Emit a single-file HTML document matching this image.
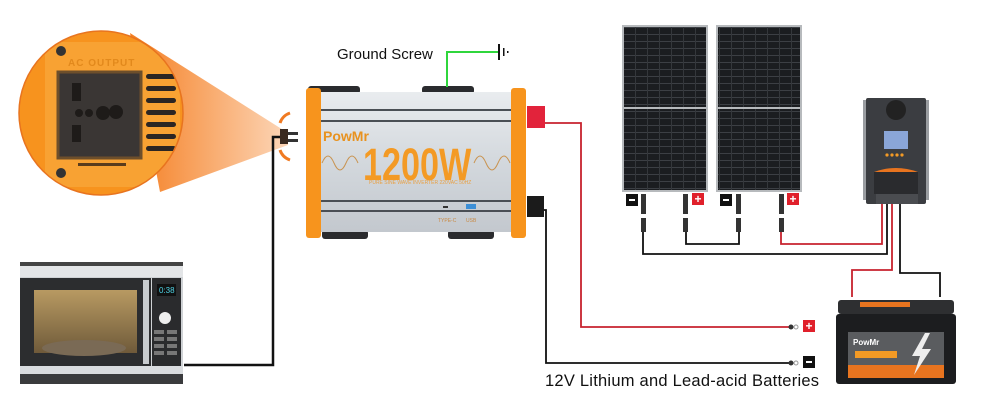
<!DOCTYPE html>
<html><head><meta charset="utf-8"><style>
html,body{margin:0;padding:0;background:#fff;}
svg{display:block;font-family:"Liberation Sans",sans-serif;}
</style></head><body>
<svg width="1000" height="410" viewBox="0 0 1000 410" xmlns="http://www.w3.org/2000/svg">
<defs>
<linearGradient id="cone" x1="0" x2="1" y1="0" y2="0">
<stop offset="0" stop-color="#f57f22"/><stop offset="1" stop-color="#fcd6b8"/></linearGradient>
<linearGradient id="silver" x1="0" x2="0" y1="0" y2="1">
<stop offset="0" stop-color="#e9ecef"/><stop offset="0.5" stop-color="#d3d8dd"/><stop offset="1" stop-color="#c3c8ce"/></linearGradient>
<linearGradient id="oven" x1="0" x2="0" y1="0" y2="1">
<stop offset="0" stop-color="#b89a62"/><stop offset="1" stop-color="#6f5a3a"/></linearGradient>
<pattern id="cells" width="12" height="7" patternUnits="userSpaceOnUse">
<rect width="12" height="7" fill="#1b1d20"/><rect x="0" y="6" width="12" height="1" fill="#3c3f44"/><rect x="11" y="0" width="1" height="7" fill="#34373b"/></pattern>
<clipPath id="circ"><circle cx="101" cy="113" r="82"/></clipPath>
</defs>

<polygon points="130,33 288,133 288,145 160,192" fill="url(#cone)"/>
<g clip-path="url(#circ)">
<rect x="15" y="25" width="175" height="180" fill="#f7931e"/>
<rect x="45" y="42" width="135" height="145" rx="6" fill="#f8a233"/>
<text x="68" y="66" font-size="10" font-weight="bold" fill="#e2891c" letter-spacing="1">AC OUTPUT</text>
<rect x="58" y="72" width="83" height="86" fill="#3a3634" stroke="#6d4f2b" stroke-width="3"/>
<rect x="72" y="83" width="9" height="18" fill="#1e1b19"/><rect x="72" y="125" width="9" height="17" fill="#1e1b19"/>
<circle cx="79" cy="113" r="4" fill="#1e1b19"/><circle cx="89" cy="113" r="4" fill="#1e1b19"/><circle cx="103" cy="113" r="7" fill="#1e1b19"/><circle cx="116" cy="112" r="7" fill="#1e1b19"/>
<rect x="78" y="163" width="48" height="3" fill="#5a3c1c"/>
<g fill="#2b2623">
<rect x="146" y="74" width="30" height="5" rx="2.5"/><rect x="146" y="86" width="30" height="5" rx="2.5"/><rect x="146" y="98" width="30" height="5" rx="2.5"/><rect x="146" y="110" width="30" height="5" rx="2.5"/><rect x="146" y="122" width="30" height="5" rx="2.5"/><rect x="146" y="134" width="30" height="5" rx="2.5"/><rect x="146" y="146" width="30" height="5" rx="2.5"/></g>
<circle cx="61" cy="51" r="5" fill="#333"/><circle cx="61" cy="173" r="5" fill="#333"/>
</g>
<circle cx="101" cy="113" r="82" fill="none" stroke="#e8741f" stroke-width="1.5"/>

<path d="M290 113 a16 16 0 0 0 -10 10 M280 150 a16 16 0 0 0 10 10" stroke="#f07a22" stroke-width="3" fill="none"/>
<rect x="280" y="129" width="8" height="15" fill="#3a2a20"/><rect x="288" y="132" width="10" height="3" fill="#333"/><rect x="288" y="139" width="10" height="3" fill="#333"/>
<polyline points="280,137 273,137 273,365 184,365" fill="none" stroke="#111" stroke-width="2.5"/>

<g fill="#2a2b2e"><rect x="308" y="86" width="52" height="8" rx="3"/><rect x="422" y="86" width="52" height="8" rx="3"/><rect x="322" y="230" width="46" height="9" rx="3"/><rect x="448" y="230" width="46" height="9" rx="3"/></g>
<rect x="318" y="92" width="195" height="140" fill="url(#silver)"/>
<g fill="#4a4f55"><rect x="318" y="109" width="195" height="2"/><rect x="318" y="120" width="195" height="2"/><rect x="318" y="200" width="195" height="2"/><rect x="318" y="210" width="195" height="2"/></g>
<rect x="306" y="88" width="15" height="150" rx="3" fill="#f7941d"/>
<rect x="511" y="88" width="15" height="150" rx="3" fill="#f7941d"/>
<rect x="527" y="106" width="18" height="22" fill="#e2233b"/>
<rect x="527" y="196" width="17" height="21" fill="#1b1b1b"/>
<text x="323" y="141" font-size="14" font-weight="bold" fill="#e8921f">PowMr</text>
<path d="M322 163 q6 -14 12 0 t12 0 t12 0" stroke="#c99350" fill="none" stroke-width="1"/>
<path d="M474 163 q6 -14 12 0 t12 0 t12 0" stroke="#c99350" fill="none" stroke-width="1"/>
<text transform="translate(363,180) scale(0.76,1)" font-size="45" font-weight="bold" fill="#f39a25">1200W</text>
<text x="369" y="184" font-size="5" fill="#e8a044">PURE SINE WAVE INVERTER 220VAC 50HZ</text>
<rect x="443" y="206" width="5" height="2" fill="#333"/><rect x="466" y="204" width="10" height="5" fill="#3d8fd6"/>
<text x="438" y="222" font-size="5" fill="#c98a44">TYPE-C</text><text x="466" y="222" font-size="5" fill="#c98a44">USB</text>

<text x="337" y="59" font-size="15" fill="#111">Ground Screw</text>
<polyline points="447,87 447,52 498,52" fill="none" stroke="#2fd63c" stroke-width="2"/>
<rect x="498" y="44" width="2" height="16" fill="#111"/><rect x="503" y="48" width="1.5" height="8" fill="#111"/><rect x="507" y="51" width="1.5" height="2" fill="#111"/>

<polyline points="545,123 581,123 581,327 790,327" fill="none" stroke="#c7222e" stroke-width="1.8"/>
<polyline points="544,210 546,210 546,363 790,363" fill="none" stroke="#111" stroke-width="1.8"/>
<circle cx="791" cy="327" r="2.5" fill="#333"/><circle cx="796" cy="327" r="2" fill="none" stroke="#999"/>
<circle cx="791" cy="363" r="2.5" fill="#333"/><circle cx="796" cy="363" r="2" fill="none" stroke="#999"/>
<rect x="803" y="320" width="12" height="12" fill="#e0202b"/><text x="809" y="330" font-size="12" font-weight="bold" fill="#fff" text-anchor="middle">+</text>
<rect x="803" y="356" width="12" height="12" fill="#111"/><rect x="806" y="361" width="6" height="2" fill="#fff"/>
<text x="545" y="386" font-size="16.5" fill="#111" textLength="274">12V Lithium and Lead-acid Batteries</text>

<rect x="20" y="262" width="163" height="120" rx="3" fill="#cfd2d5"/>
<rect x="20" y="262" width="163" height="4" fill="#444"/>
<rect x="20" y="266" width="163" height="11" fill="#e3e5e7"/>
<rect x="20" y="278" width="131" height="88" fill="#2c2d2f"/>
<rect x="34" y="290" width="103" height="63" fill="url(#oven)"/>
<ellipse cx="84" cy="348" rx="42" ry="8" fill="#7a6a55"/>
<rect x="143" y="280" width="6" height="84" fill="#c8cbce"/>
<rect x="152" y="278" width="29" height="88" fill="#2a2b2d"/>
<rect x="157" y="284" width="19" height="12" fill="#111"/><text x="159" y="293" font-size="8" fill="#4fd4e6">0:38</text>
<circle cx="165" cy="318" r="6" fill="#eee"/>
<g fill="#777"><rect x="154" y="330" width="10" height="4"/><rect x="167" y="330" width="10" height="4"/><rect x="154" y="337" width="10" height="4"/><rect x="167" y="337" width="10" height="4"/><rect x="154" y="344" width="10" height="4"/><rect x="167" y="344" width="10" height="4"/><rect x="154" y="351" width="10" height="4"/><rect x="167" y="351" width="10" height="4"/></g>
<rect x="20" y="366" width="163" height="8" fill="#d9dcdf"/>
<rect x="20" y="374" width="163" height="10" fill="#3a3b3d"/>

<rect x="622" y="25" width="86" height="167" fill="#b7babd"/>
<rect x="624" y="27" width="82" height="80" fill="url(#cells)"/><rect x="624" y="109" width="82" height="81" fill="url(#cells)"/>
<rect x="716" y="25" width="86" height="167" fill="#b7babd"/>
<rect x="718" y="27" width="82" height="80" fill="url(#cells)"/><rect x="718" y="109" width="82" height="81" fill="url(#cells)"/>
<g fill="#111"><rect x="626" y="194" width="12" height="12"/><rect x="720" y="194" width="12" height="12"/></g>
<g fill="#fff"><rect x="629" y="199" width="6" height="2"/><rect x="723" y="199" width="6" height="2"/></g>
<g fill="#e0202b"><rect x="692" y="193" width="12" height="12"/><rect x="787" y="193" width="12" height="12"/></g>
<text x="698" y="203" font-size="12" font-weight="bold" fill="#fff" text-anchor="middle">+</text>
<text x="793" y="203" font-size="12" font-weight="bold" fill="#fff" text-anchor="middle">+</text>
<g fill="#333"><rect x="641" y="194" width="5" height="20"/><rect x="641" y="218" width="5" height="14"/><rect x="683" y="194" width="5" height="20"/><rect x="683" y="218" width="5" height="14"/><rect x="736" y="194" width="5" height="20"/><rect x="736" y="218" width="5" height="14"/><rect x="779" y="194" width="5" height="20"/><rect x="779" y="218" width="5" height="14"/></g>
<polyline points="643,232 643,254 887,254 887,204" fill="none" stroke="#111" stroke-width="1.8"/>
<polyline points="686,232 686,244 739,244 739,232" fill="none" stroke="#111" stroke-width="1.8"/>
<polyline points="781,232 781,244 882,244 882,204" fill="none" stroke="#c7222e" stroke-width="1.8"/>

<rect x="863" y="100" width="66" height="100" fill="#9a9da1"/>
<rect x="866" y="98" width="60" height="106" rx="2" fill="#3b3d41"/>
<circle cx="896" cy="110" r="10" fill="#222"/>
<rect x="884" y="131" width="24" height="18" fill="#8aa6d8"/>
<g fill="#f39a25"><circle cx="887" cy="155" r="1.6"/><circle cx="892" cy="155" r="1.6"/><circle cx="897" cy="155" r="1.6"/><circle cx="902" cy="155" r="1.6"/></g>
<path d="M874 172 q22 -8 44 0 z" fill="#e8741f"/>
<rect x="874" y="172" width="44" height="22" fill="#2a2b2e"/>
<rect x="876" y="194" width="42" height="10" fill="#4a4c50"/>
<polyline points="892,204 892,270 852,270 852,297" fill="none" stroke="#c7222e" stroke-width="1.8"/>
<polyline points="900,204 900,273 940,273 940,297" fill="none" stroke="#111" stroke-width="1.8"/>

<rect x="838" y="300" width="116" height="14" rx="3" fill="#2e2f31"/>
<rect x="860" y="302" width="50" height="5" fill="#e8741f"/>
<rect x="836" y="314" width="120" height="70" rx="3" fill="#1c1d1f"/>
<rect x="848" y="332" width="96" height="46" fill="#5a5c5f"/>
<text x="853" y="345" font-size="8" font-weight="bold" fill="#fff">PowMr</text>
<rect x="855" y="351" width="42" height="7" fill="#f39a25"/>
<rect x="848" y="365" width="96" height="13" fill="#e8741f"/>
<polygon points="925,333 912,356 920,356 914,375 931,349 922,349 930,333" fill="#eee"/>
</svg>
</body></html>
